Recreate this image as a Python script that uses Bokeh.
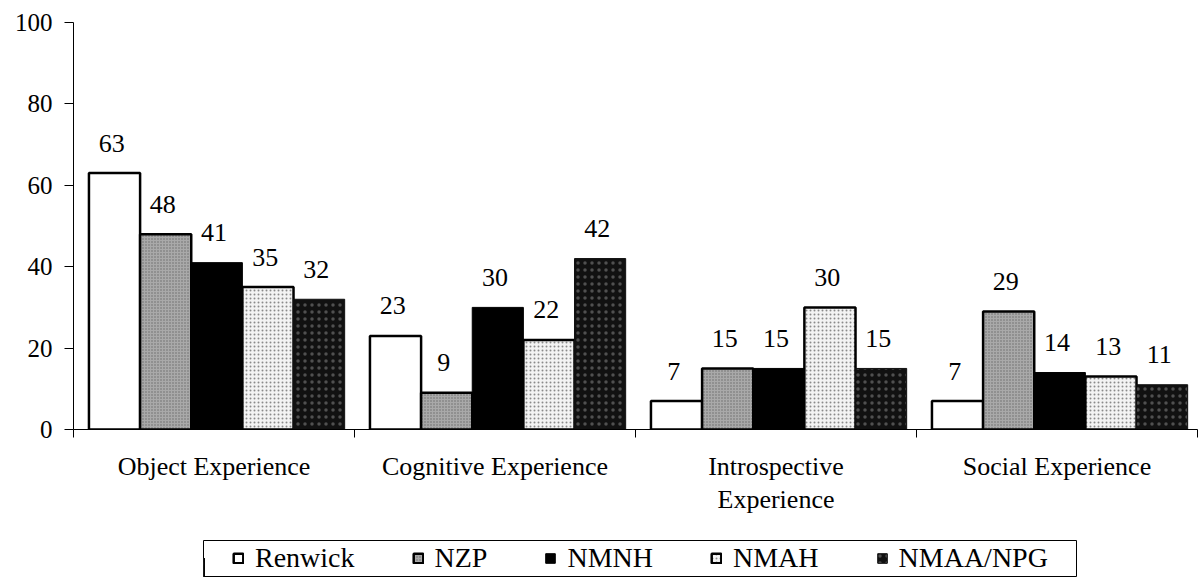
from bokeh.plotting import figure
from bokeh.models import ColumnDataSource, Range1d, FixedTicker, Legend, LegendItem
from bokeh.transform import dodge
from bokeh.layouts import column
from bokeh.embed import file_html
from bokeh.resources import INLINE

# ---- data ----
categories = ["Object Experience", "Cognitive Experience", "Introspective\nExperience", "Social Experience"]
series_names = ["Renwick", "NZP", "NMNH", "NMAH", "NMAA/NPG"]
renwick = [63, 23, 7, 7]
nzp = [48, 9, 15, 29]
nmnh = [41, 30, 15, 14]
nmah = [35, 22, 30, 13]
nmaa_npg = [32, 42, 15, 11]
y_ticks = [0, 20, 40, 60, 80, 100]

series_values = [renwick, nzp, nmnh, nmah, nmaa_npg]
cat_pos = [i + 0.5 for i in range(len(categories))]

styles = [
    dict(fill_color="white", line_color="black", line_width=2.5),
    dict(fill_color="#a9a9a9", line_color="black", line_width=2.5,
         hatch_pattern="dot", hatch_color="#6a6a6a", hatch_scale=3, hatch_weight=1),
    dict(fill_color="black", line_color="black", line_width=1),
    dict(fill_color="#f3f3f3", line_color="black", line_width=2.5,
         hatch_pattern="dot", hatch_color="#8a8a8a", hatch_scale=4, hatch_weight=1),
    dict(fill_color="#111111", line_color="#111111", line_width=1,
         hatch_pattern="dot", hatch_color="#505050", hatch_scale=7, hatch_weight=0.5),
]

FONT = "Liberation Serif"
LEFT = 73

p = figure(width=1199, height=532, x_range=Range1d(0, 4), y_range=Range1d(0, 100),
           output_backend="svg", toolbar_location=None,
           min_border_left=LEFT, min_border_top=22, min_border_right=2, min_border_bottom=103)
p.grid.visible = False
p.outline_line_color = None
p.background_fill_color = "white"
p.border_fill_color = "white"

bar_w = 0.182
for j, (name, vals, st) in enumerate(zip(series_names, series_values, styles)):
    src = ColumnDataSource(dict(x=cat_pos, top=vals, label=[str(v) for v in vals]))
    off = (j - 2) * bar_w + 0.01
    p.vbar(x=dodge("x", off), top="top", bottom=0, width=bar_w, source=src, **st)
    p.text(x=dodge("x", off - 0.01), y="top", text="label", source=src,
           text_align="center", text_baseline="alphabetic", y_offset=-30,
           text_font=FONT, text_font_size="26px", text_color="black")

# x axis
xa = p.xaxis[0]
xa.ticker = FixedTicker(ticks=cat_pos, minor_ticks=list(range(len(categories) + 1)))
xa.major_label_overrides = {c: lab for c, lab in zip(cat_pos, categories)}
xa.major_tick_line_color = None
xa.major_tick_out = 0
xa.major_tick_in = 0
xa.minor_tick_out = 8
xa.minor_tick_in = 0
xa.minor_tick_line_color = "black"
xa.axis_line_color = "black"
xa.major_label_standoff = 14
xa.major_label_text_font = FONT
xa.major_label_text_font_size = "26px"
xa.major_label_text_line_height = 1.15
xa.major_label_text_color = "black"

# y axis
ya = p.yaxis[0]
ya.ticker = FixedTicker(ticks=y_ticks)
ya.minor_tick_line_color = None
ya.major_tick_out = 9
ya.major_tick_in = 0
ya.major_tick_line_color = "black"
ya.axis_line_color = "black"
ya.major_label_standoff = 12
ya.major_label_text_font = FONT
ya.major_label_text_font_size = "25px"
ya.major_label_text_color = "black"

# ---- legend strip (its frame outline is the legend box) ----
box_w = 875
lg = figure(width=LEFT + box_w, height=54, x_range=Range1d(0, 1), y_range=Range1d(0, 1),
            x_axis_type=None, y_axis_type=None, output_backend="svg", toolbar_location=None,
            min_border_left=LEFT, min_border_right=0, min_border_top=8, min_border_bottom=10,
            margin=(0, 0, 0, 130))
lg.grid.visible = False
lg.outline_line_color = "black"
lg.outline_line_alpha = 1
lg.outline_line_width = 1
lg.background_fill_color = "white"
lg.border_fill_color = "white"

items = []
for name, st in zip(series_names, styles):
    # swatch-only renderer, its single point lies outside the strip's range
    r = lg.vbar(x=[-5], top=[0.5], width=0.1, **st)
    items.append(LegendItem(label=name, renderers=[r]))

legend = Legend(items=items, orientation="horizontal", location=(29, 2),
                glyph_width=12, glyph_height=12, label_standoff=11, spacing=57,
                padding=0, margin=0, border_line_color=None,
                background_fill_alpha=0,
                label_text_font=FONT, label_text_font_size="28px",
                label_text_color="black")
lg.add_layout(legend)

layout = column(p, lg, spacing=0)
open("out.html", "w").write(file_html(layout, INLINE))
